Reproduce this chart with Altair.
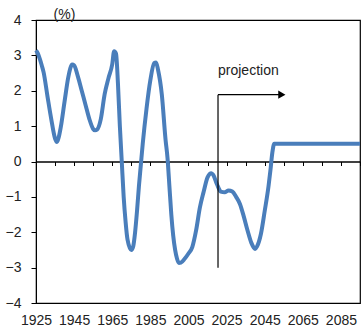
import altair as alt
import pandas as pd

years = [1925, 1926, 1927, 1928, 1929, 1931, 1933, 1935, 1936, 1937, 1938, 1940, 1942, 1944, 1945,
         1947, 1949, 1951, 1953, 1955, 1956, 1957, 1959, 1961, 1963, 1965, 1966, 1967, 1968,
         1969, 1970, 1971, 1972, 1973, 1975, 1976, 1977, 1978, 1979, 1980, 1981, 1983, 1985,
         1987, 1988, 1989, 1991, 1993, 1994, 1995, 1996, 1997, 1998, 1999, 2000, 2001, 2003,
         2005, 2007, 2009, 2011, 2013, 2015, 2017, 2018, 2020, 2022, 2024, 2026, 2028, 2030,
         2032, 2034, 2036, 2038, 2040, 2041, 2043, 2045, 2047, 2048, 2049, 2050, 2095]
values = [3.14, 3.05, 2.9, 2.72, 2.52, 1.85, 1.2, 0.65, 0.55, 0.7, 0.97, 1.7, 2.4, 2.74, 2.72,
          2.4, 2.0, 1.6, 1.2, 0.92, 0.88, 0.9, 1.2, 1.9, 2.35, 2.75, 3.12, 3.05, 2.2,
          1.0, 0.0, -1.0, -1.7, -2.2, -2.5, -2.4, -2.0, -1.4, -0.7, -0.1, 0.5, 1.5, 2.3,
          2.78, 2.8, 2.6, 1.9, 0.6, 0.1, -0.7, -1.5, -2.1, -2.5, -2.75, -2.87, -2.86, -2.75,
          -2.6, -2.42, -1.95, -1.3, -0.85, -0.45, -0.33, -0.38, -0.65, -0.85, -0.87, -0.82, -0.85, -1.0,
          -1.2, -1.55, -1.95, -2.3, -2.47, -2.4, -2.05, -1.4, -0.7, -0.25, 0.25, 0.5, 0.5]

x_label_values = [1925, 1945, 1965, 1985, 2005, 2025, 2045, 2065, 2085]
x_tick_values = list(range(1925, 2096, 10))
y_tick_values = [-4, -3, -2, -1, 0, 1, 2, 3, 4]

proj_year = [2020.5]
proj_bottom = [-3.0]
proj_top = [1.89]
arrow_end = [2053.0]
arrow_tip = [2054.0]
proj_label = ["projection"]
proj_label_y = [2.57]

FONT = "Liberation Sans"
X_DOMAIN = [1925, 2095]

df = pd.DataFrame({"year": years, "value": values})
xs = alt.Scale(domain=X_DOMAIN, nice=False, zero=False)
ys = alt.Scale(domain=[-4, 4], nice=False)

line = alt.Chart(df).mark_line(color="#4a7ebb", strokeWidth=4, interpolate="monotone").encode(
    x=alt.X("year:Q", scale=xs,
            axis=alt.Axis(orient="bottom", values=x_label_values, format="d", ticks=False,
                          tickSize=0, domain=False, grid=False, labelPadding=10, labelFontSize=14,
                          labelFont=FONT, labelColor="#222222", title=None, labelFlush=False,
                          labelOverlap=False)),
    y=alt.Y("value:Q", scale=ys,
            axis=alt.Axis(orient="left", values=y_tick_values, grid=False, tickSize=5,
                          tickColor="black", domainColor="black", labelPadding=10,
                          labelFontSize=14, labelFont=FONT,
                          labelColor="#222222", labelOverlap=False, labelFlush=False,
                          title="(%)", titleAngle=0, titleX=28, titleY=-6,
                          titleAlign="center", titleBaseline="middle", titleFont=FONT,
                          titleFontSize=14, titleFontWeight="normal", titleColor="#222222")),
)

pdf = pd.DataFrame({"x": proj_year, "y": proj_bottom, "y2": proj_top, "xe": arrow_end,
                    "xt": arrow_tip, "label": proj_label, "ly": proj_label_y})

vrule = alt.Chart(pdf).mark_rule(color="black", strokeWidth=1.2).encode(
    x=alt.X("x:Q", scale=xs,
            axis=alt.Axis(orient="bottom", values=x_tick_values, labels=False, ticks=True,
                          tickSize=4, tickColor="black", domainColor="black", domainWidth=1.5,
                          grid=False, offset=-141.5, title=None)),
    y=alt.Y("y:Q", scale=ys, axis=None),
    y2="y2:Q",
)
hrule = alt.Chart(pdf).mark_rule(color="black", strokeWidth=1.2).encode(
    x=alt.X("x:Q", scale=xs, axis=None), x2="xe:Q", y=alt.Y("y2:Q", scale=ys, axis=None))
tip = alt.Chart(pdf).mark_point(shape="triangle-right", filled=True, color="black",
                                size=70, opacity=1).encode(
    x=alt.X("xt:Q", scale=xs, axis=None), y=alt.Y("y2:Q", scale=ys, axis=None))
txt = alt.Chart(pdf).mark_text(align="left", baseline="middle", fontSize=14, font=FONT,
                               color="#222222").encode(
    x=alt.X("x:Q", scale=xs, axis=None), y=alt.Y("ly:Q", scale=ys, axis=None), text="label:N")

chart = alt.layer(line, vrule, hrule, tip, txt).resolve_axis(
    x="independent", y="independent").properties(
    width=324, height=283,
    padding={"left": 36, "top": 20, "right": 1, "bottom": 29},
    autosize=alt.AutoSizeParams(type="none"),
).configure_view(stroke="black", strokeWidth=1.2)

chart.save("out.html", embed_options={"renderer": "svg", "actions": False})
